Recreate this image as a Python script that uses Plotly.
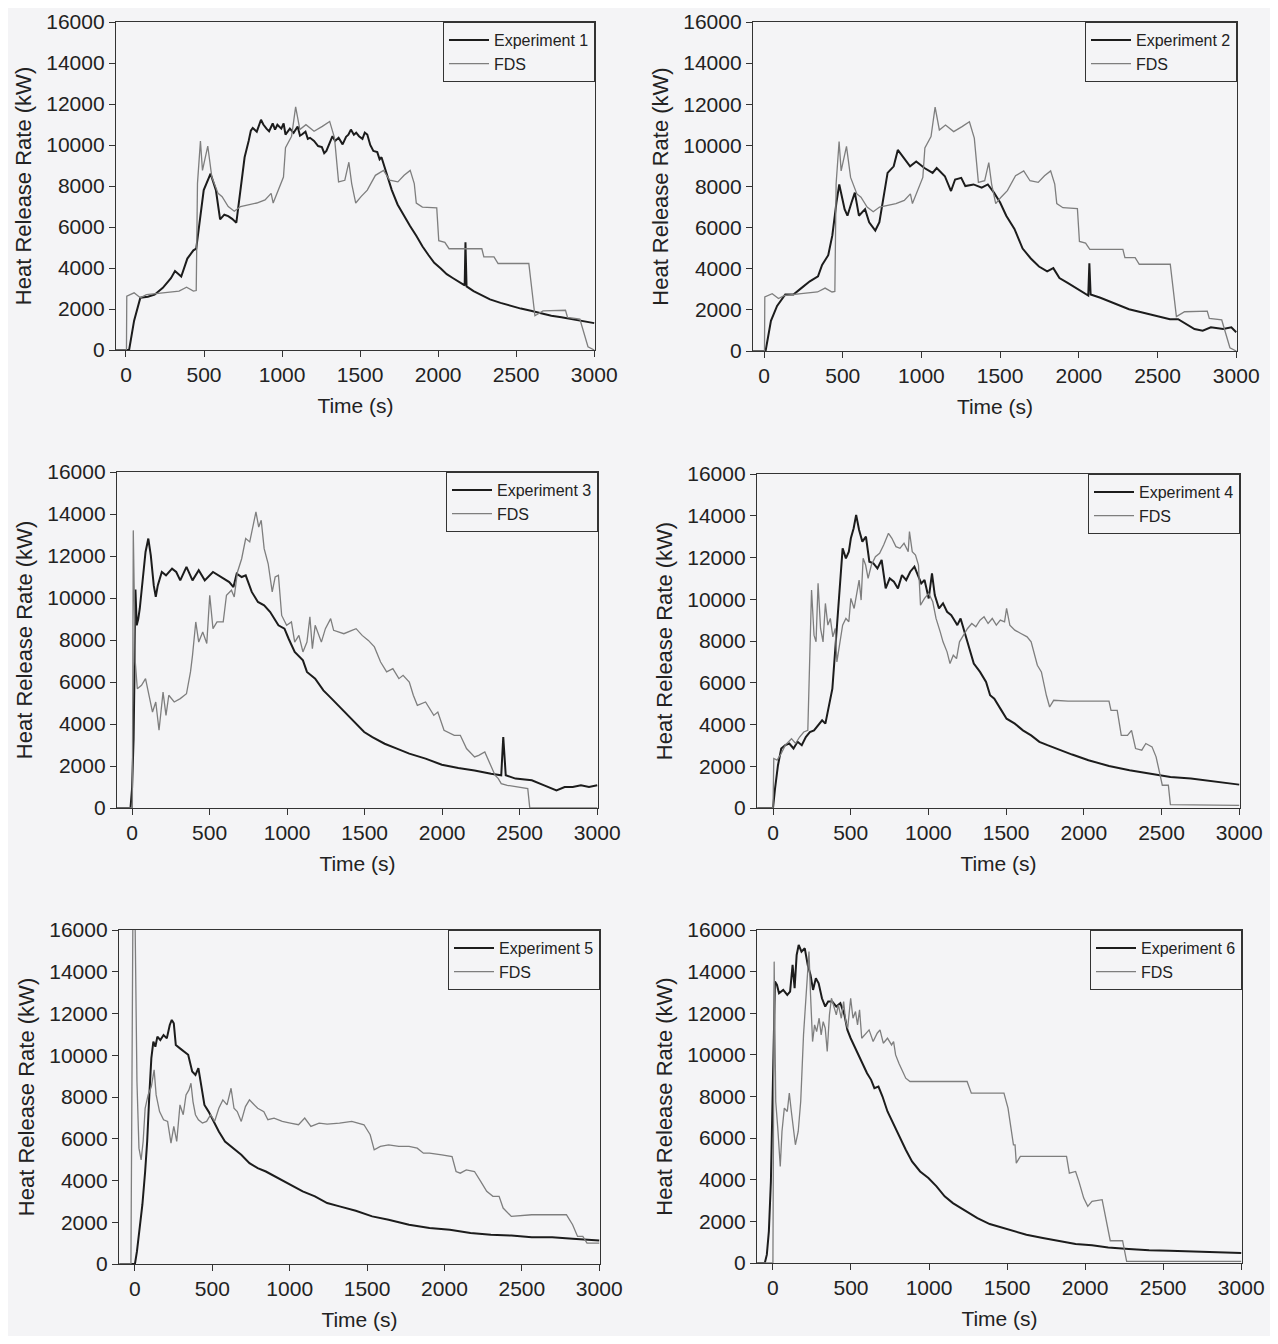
import plotly.graph_objects as go

# ---------------- data (time s, heat release rate kW) ----------------
exp1 = [(-100,0),(20,0),(52,1430),(92,2550),(140,2600),(183,2700),(236,3030),(288,3500),(314,3850),(354,3580),
        (393,4460),(432,4860),(450,4940),(472,6370),(498,7800),(542,8600),(576,7800),(603,6370),(630,6600),(655,6530),
        (680,6400),(707,6210),(734,7800),(760,9400),(786,10200),(800,10700),(812,10830),(838,10650),(865,11230),
        (880,11000),(900,10800),(917,10670),(940,11050),(955,10750),(970,10990),(995,10800),(1010,11050),(1022,10510),
        (1050,10800),(1074,10590),(1100,10900),(1115,10450),(1127,10510),(1150,10650),(1165,10300),(1179,10350),
        (1205,10200),(1231,9950),(1255,9900),(1270,9600),(1284,9710),(1300,10000),(1323,10430),(1340,10200),
        (1362,10350),(1388,10030),(1410,10400),(1425,10500),(1441,10750),(1460,10500),(1475,10600),(1493,10430),
        (1515,10300),(1530,10600),(1546,10510),(1565,10000),(1585,9710),(1610,9650),(1625,9300),(1637,9400),
        (1660,8800),(1703,7800),(1740,7100),(1782,6530),(1820,6050),(1860,5570),(1900,5050),(1939,4620),(1975,4250),
        (2017,3980),(2055,3700),(2096,3500),(2161,3180),(2170,3150),(2175,5250),(2182,3100),(2227,2870),(2280,2650),
        (2332,2470),(2400,2300),(2463,2150),(2530,2020),(2594,1910),(2660,1780),(2725,1670),(2790,1600),(2856,1510),
        (2930,1420),(3000,1310)]
fds12 = [(-100,0),(3,0),(5,2630),(52,2790),(92,2550),(131,2700),(236,2790),(340,2870),(388,3060),(432,2870),(450,2900),
         (458,8120),(477,10190),(490,8760),(524,9950),(550,8440),(590,7640),(616,7480),(655,7000),(694,6770),(734,7000),
         (786,7090),(838,7170),(891,7320),(930,7640),(943,7170),(982,7960),(1009,8440),(1022,9870),(1061,10430),
         (1087,11860),(1114,10750),(1153,10990),(1205,10670),(1258,10910),(1305,11150),(1336,10350),(1362,8200),
         (1402,8280),(1428,9160),(1446,8120),(1472,7170),(1506,7480),(1546,7800),(1598,8520),(1650,8760),(1690,8280),
         (1742,8200),(1782,8520),(1821,8760),(1847,8120),(1860,7170),(1899,6970),(1991,6930),(2004,5330),(2043,5250),
         (2070,4940),(2280,4940),(2293,4540),(2358,4540),(2384,4220),(2581,4220),(2620,1670),(2672,1910),(2816,1940),
         (2829,1590),(2908,1510),(2960,160),(3000,0)]
exp2 = [(-100,0),(10,0),(44,1470),(83,2190),(135,2750),(187,2750),(239,3070),(291,3390),(343,3630),(369,4190),
        (408,4660),(434,5620),(460,7220),(478,8100),(512,6900),(530,6580),(556,7220),(577,7700),(603,6580),(642,6900),
        (668,6260),(707,5860),(733,6260),(759,7540),(785,8660),(824,8980),(850,9780),(889,9380),(928,8980),(967,9220),
        (1019,8900),(1071,8660),(1097,8900),(1149,8500),(1188,7780),(1214,8340),(1253,8420),(1279,8020),(1331,8100),
        (1383,7940),(1422,8100),(1461,7700),(1500,7220),(1539,6580),(1591,5940),(1643,4980),(1695,4500),(1747,4110),
        (1799,3870),(1838,4030),(1877,3550),(1929,3310),(1981,3070),(2046,2750),(2060,2700),(2067,4270),(2075,2750),
        (2137,2590),(2215,2350),(2319,2030),(2449,1790),(2579,1550),(2631,1550),(2735,1070),(2787,990),(2839,1150),
        (2917,1070),(2969,1150),(3000,910)]
exp3 = [(-100,0),(-10,0),(0,920),(10,3300),(15,6000),(22,10400),(30,8700),(40,9000),(50,9500),(69,10920),(87,12190),
        (105,12830),(121,12030),(140,10600),(153,10050),(166,10600),(192,11240),(219,11080),(258,11400),(285,11240),
        (311,10840),(351,11480),(390,10840),(430,11320),(469,10840),(522,11240),(575,11000),(627,10760),(654,10520),
        (675,11160),(707,11000),(733,11080),(772,10290),(812,9810),(852,9650),(891,9330),(944,8700),(983,8540),
        (1010,8060),(1049,7430),(1102,7030),(1128,6480),(1181,6160),(1234,5600),(1287,5210),(1339,4810),(1392,4410),
        (1445,4020),(1497,3620),(1550,3380),(1629,3060),(1708,2830),(1788,2590),(1893,2350),(1998,2060),(2104,1900),
        (2209,1790),(2315,1630),(2381,1560),(2394,3380),(2410,1560),(2473,1400),(2578,1320),(2658,1080),(2737,840),
        (2790,1000),(2842,1000),(2895,1080),(2947,1000),(3000,1080)]
fds3 = [(-100,0),(2,0),(8,13220),(21,6950),(34,5680),(61,5840),(87,6160),(105,5520),(132,4570),(153,5050),(174,3700),
        (200,5520),(219,4410),(237,5370),(272,5050),(311,5210),(351,5440),(377,6480),(390,7270),(411,8860),(430,7900),
        (456,8380),(482,7830),(501,10130),(522,8540),(548,8860),(588,8860),(609,10130),(641,10370),(659,10050),
        (680,11240),(707,11870),(733,12830),(759,12670),(786,13700),(799,14100),(817,13380),(833,13700),(852,12350),
        (878,11630),(904,10290),(923,11000),(944,11080),(965,9170),(997,8700),(1028,8860),(1049,7900),(1076,8220),
        (1102,7430),(1128,7900),(1147,9100),(1163,7590),(1181,8700),(1221,7900),(1247,8540),(1281,9020),(1300,8460),
        (1366,8300),(1418,8460),(1445,8540),(1484,8220),(1524,7980),(1563,7670),(1603,6950),(1642,6480),(1682,6640),
        (1721,6160),(1748,6320),(1788,6000),(1814,5370),(1840,4890),(1893,5050),(1946,4410),(1972,4570),(2012,3700),
        (2051,3540),(2078,3460),(2117,3460),(2157,2830),(2209,2430),(2236,2510),(2275,2670),(2302,2190),(2341,1560),
        (2362,1400),(2381,1160),(2420,1080),(2552,920),(2565,0),(3000,0)]
exp4 = [(-100,0),(0,0),(13,930),(32,2050),(53,2850),(79,3010),(105,3090),(132,2850),(158,3170),(185,3010),(211,3400),
        (237,3640),(264,3720),(290,3960),(316,4200),(337,4040),(356,4680),(382,5720),(401,7640),(422,9880),(440,11480),
        (448,12440),(469,11960),(488,12280),(501,12920),(519,13400),(535,14040),(554,13320),(575,12760),(598,13000),
        (620,11800),(646,11720),(672,11480),(699,11880),(725,10520),(751,11000),(778,10840),(804,10520),(830,11160),
        (857,10920),(883,11320),(910,11560),(936,11080),(954,10760),(975,10920),(1002,10040),(1023,11240),(1041,10200),
        (1068,9560),(1094,9800),(1120,9400),(1147,9240),(1173,8920),(1186,8760),(1207,9080),(1239,8280),(1265,7640),
        (1292,6920),(1332,6520),(1371,6040),(1397,5400),(1424,5240),(1463,4760),(1503,4280),(1556,4040),(1608,3720),
        (1661,3480),(1714,3170),(1766,3010),(1846,2770),(1925,2560),(2030,2290),(2162,2010),(2294,1810),(2426,1650),
        (2557,1490),(2689,1410),(2821,1280),(2926,1210),(3000,1120)]
fds4 = [(-100,0),(0,0),(5,2370),(26,2290),(53,2610),(79,3010),(119,3320),(145,3090),(171,3400),(198,3640),(224,3720),
        (232,5720),(237,7960),(248,10440),(264,8280),(277,7960),(290,10760),(306,8600),(322,7960),(337,9800),(353,8760),
        (369,9080),(385,8200),(401,8600),(411,7000),(427,7800),(448,8760),(469,9080),(488,8920),(501,10040),(522,9560),
        (554,10920),(567,9960),(580,11960),(596,11640),(612,11000),(633,11640),(659,12040),(686,12200),(712,12600),
        (743,13160),(765,12920),(791,12520),(817,12440),(843,12680),(870,12280),(878,13240),(896,12280),(917,12120),
        (936,11640),(949,9720),(975,10040),(1002,10280),(1028,9880),(1049,9080),(1076,8440),(1094,7960),(1120,7480),
        (1139,6920),(1160,7320),(1181,7160),(1200,7960),(1226,8280),(1252,8600),(1279,8840),(1305,8680),(1332,9000),
        (1358,9160),(1384,8840),(1411,9080),(1437,8760),(1463,9000),(1490,8920),(1503,9560),(1524,8760),(1556,8520),
        (1595,8360),(1635,8200),(1661,7960),(1682,7320),(1701,6840),(1727,6520),(1745,5880),(1759,5400),(1780,4840),
        (1806,5160),(1898,5120),(2162,5120),(2175,4680),(2215,4680),(2241,3480),(2281,3480),(2307,3720),(2333,2850),
        (2373,2770),(2399,3090),(2439,2930),(2465,2450),(2491,1570),(2505,1090),(2544,1090),(2557,160),(3000,130)]
exp5 = [(-100,0),(0,0),(13,600),(26,1400),(48,2840),(66,4430),(79,5870),(93,8100),(106,9860),(119,10650),(132,10410),
        (145,10890),(164,10730),(185,10970),(206,10810),(225,11450),(238,11690),(251,11530),(264,10490),(291,10330),
        (317,10180),(344,10020),(370,9220),(391,9060),(410,9380),(428,8580),(449,7620),(476,7300),(502,6910),(542,6350),
        (582,5870),(634,5550),(687,5230),(740,4830),(793,4590),(846,4430),(925,4110),(1004,3800),(1084,3480),(1163,3240),
        (1242,2920),(1322,2760),(1427,2550),(1533,2280),(1639,2120),(1771,1880),(1903,1720),(2035,1640),(2168,1480),
        (2300,1400),(2432,1360),(2564,1280),(2696,1280),(2828,1210),(2934,1160),(3000,1120)]
fds5 = [(-100,0),(-26,0),(-13,17000),(0,17000),(13,8740),(26,5550),(40,4990),(53,5870),(66,7460),(85,8100),(106,8500),
        (124,9300),(137,8100),(159,7300),(185,6910),(211,6830),(233,5790),(251,6590),(270,5870),(291,7620),(312,7150),
        (330,8100),(349,8340),(362,8660),(375,7780),(391,7150),(410,6910),(436,6750),(463,6830),(489,7150),(515,6830),
        (542,7460),(568,7860),(595,7620),(621,8420),(640,7460),(661,7300),(687,6830),(714,7540),(740,7860),(761,7700),
        (793,7460),(833,7300),(859,6910),(899,6990),(952,6830),(1004,6750),(1057,6670),(1097,6990),(1137,6590),
        (1190,6750),(1242,6700),(1322,6750),(1401,6830),(1480,6670),(1520,6190),(1546,5470),(1586,5630),(1639,5710),
        (1705,5630),(1771,5630),(1824,5550),(1864,5310),(1903,5310),(1983,5230),(2049,5150),(2075,4430),(2102,4350),
        (2141,4510),(2194,4430),(2234,3960),(2273,3480),(2313,3240),(2353,3240),(2379,2680),(2432,2280),(2564,2360),
        (2696,2360),(2788,2360),(2828,1880),(2860,1320),(2894,1320),(2921,1000),(3000,1000)]
exp6 = [(-100,0),(-52,0),(-39,400),(-26,1520),(-13,3920),(0,8720),(13,13520),(26,13360),(39,12960),(66,13120),
        (92,12880),(110,13040),(126,14320),(139,13200),(152,14800),(165,15280),(183,14960),(204,15120),(223,14320),
        (241,13840),(257,13120),(275,13680),(293,13440),(314,12720),(335,12320),(354,12560),(380,12560),(406,12320),
        (432,12480),(458,11920),(477,11200),(498,10800),(524,10400),(550,9920),(576,9520),(603,9120),(629,8800),
        (650,8400),(676,8480),(702,8000),(734,7280),(773,6640),(812,6000),(851,5440),(891,4880),(943,4400),(996,4080),
        (1048,3680),(1100,3200),(1153,2880),(1205,2640),(1258,2400),(1310,2160),(1389,1870),(1467,1710),(1546,1520),
        (1624,1360),(1729,1200),(1834,1070),(1939,910),(2044,850),(2148,750),(2279,670),(2410,610),(2541,590),
        (2672,560),(2803,530),(2908,530),(3000,480)]
fds6 = [(-100,0),(0,0),(8,14480),(18,7760),(31,6480),(47,4640),(58,6320),(73,7440),(92,7280),(105,8160),(118,7280),
        (131,6480),(144,5680),(162,6320),(178,7760),(196,10960),(215,13040),(231,14960),(241,12880),(254,10640),
        (267,11440),(280,11120),(296,11760),(309,10960),(322,11600),(335,11280),(348,10160),(362,11920),(375,12720),
        (388,12400),(406,11920),(419,12400),(438,11760),(453,12560),(466,11600),(479,11280),(498,12720),(513,11760),
        (529,12080),(542,11440),(555,12160),(569,10800),(589,10960),(616,11200),(642,10640),(668,11040),(686,11200),
        (707,10560),(734,10800),(760,10480),(773,10640),(786,10000),(807,9600),(825,9280),(851,8880),(878,8720),
        (1244,8720),(1271,8160),(1480,8160),(1506,7440),(1525,6480),(1541,5680),(1551,5680),(1559,4800),(1585,5120),
        (1881,5120),(1899,4320),(1939,4400),(1960,3920),(1991,3120),(2017,2720),(2044,2960),(2109,3040),(2135,2000),
        (2161,1070),(2240,1070),(2266,80),(3000,80)]

exp_names = ["Experiment 1", "Experiment 2", "Experiment 3", "Experiment 4", "Experiment 5", "Experiment 6"]
exp_series = [exp1, exp2, exp3, exp4, exp5, exp6]
fds_series = [fds12, fds12, fds3, fds4, fds5, fds6]
x_ticks = [0, 500, 1000, 1500, 2000, 2500, 3000]
y_ticks = [0, 2000, 4000, 6000, 8000, 10000, 12000, 14000, 16000]
y_ticklabels = [str(v) for v in y_ticks]

# ---------------- layout (pixel boxes of each panel, page coordinates) ----------------
PAGE_W, PAGE_H = 1278, 1344
OFF = 8                       # default body margin of the html page
W, H = PAGE_W - 2 * OFF, PAGE_H - 2 * OFF
boxes = [  # left, right, top, bottom (px), x-range start
    (116, 595, 22, 350, -64),
    (753, 1237, 22, 351, -70),
    (117, 598, 472, 808, -97),
    (757, 1240, 474, 808, -103),
    (119, 600, 930, 1264, -103),
    (757, 1242, 930, 1263, -102),
]

FONT = "Liberation Sans, Arial, sans-serif"
BG = "#f4f4f6"
fig = go.Figure()
layout = dict(width=W, height=H, margin=dict(l=0, r=0, t=0, b=0, pad=0, autoexpand=False),
              paper_bgcolor=BG, plot_bgcolor=BG, font=dict(family=FONT, color="#222"),
              showlegend=True)

for i, (l, r, t, b, x0) in enumerate(boxes):
    n = i + 1
    sx = "" if n == 1 else str(n)
    xd = [(l - OFF) / W, (r - OFF) / W]
    yd = [1 - (b - OFF) / H, 1 - (t - OFF) / H]
    ex = exp_series[i]
    fd = fds_series[i]
    leg = "legend" if n == 1 else f"legend{n}"
    fig.add_trace(go.Scatter(x=[p[0] for p in ex], y=[p[1] for p in ex], mode="lines",
                             name=exp_names[i], line=dict(color="#1c1c1c", width=2),
                             xaxis="x" + sx, yaxis="y" + sx, legend=leg))
    fig.add_trace(go.Scatter(x=[p[0] for p in fd], y=[p[1] for p in fd], mode="lines",
                             name="FDS", line=dict(color="#7e7e7e", width=1.3),
                             xaxis="x" + sx, yaxis="y" + sx, legend=leg))
    axcommon = dict(showline=True, linecolor="#333", linewidth=1.3, mirror=True,
                    ticks="outside", ticklen=6, tickwidth=1, tickcolor="#333",
                    showgrid=False, zeroline=False, automargin=False, ticklabeloverflow="allow",
                    tickfont=dict(size=21, family=FONT, color="#222"))
    layout["xaxis" + sx] = dict(axcommon, domain=xd, range=[x0, 3005], tickvals=x_ticks,
                                anchor="y" + sx,
                                title=dict(text="Time (s)", font=dict(size=21), standoff=12))
    layout["yaxis" + sx] = dict(axcommon, domain=yd, range=[0, 16000], tickvals=y_ticks,
                                ticktext=y_ticklabels, anchor="x" + sx,
                                title=dict(text="Heat Release Rate (kW)", font=dict(size=22), standoff=8))
    layout[leg] = dict(x=xd[1], y=yd[1], xanchor="right", yanchor="top",
                       bordercolor="#333", borderwidth=1, bgcolor="rgba(0,0,0,0)",
                       font=dict(size=16, family=FONT, color="#222"), tracegroupgap=0,
                       itemwidth=40)

fig.update_layout(**layout)
fig.write_html("out.html")
